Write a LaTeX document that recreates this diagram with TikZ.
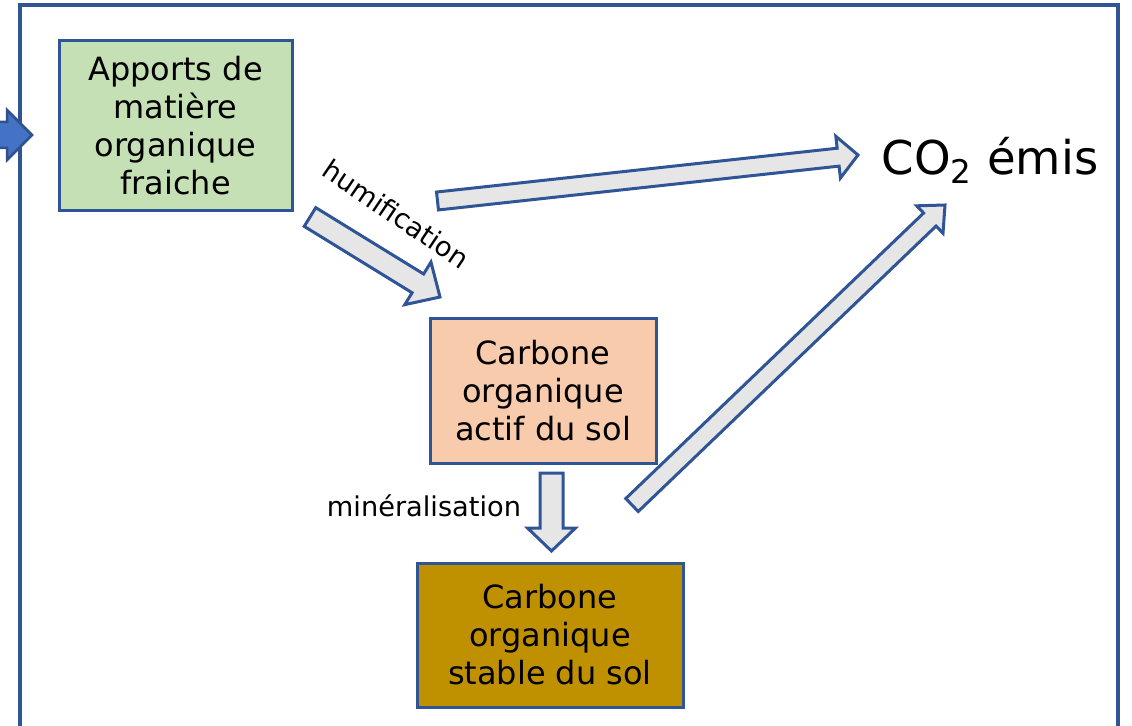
\documentclass[tikz,border=0pt]{standalone}
\usepackage{fontspec}
\setmainfont{DejaVu Sans}
\usetikzlibrary{calc}

\newlength{\du}
\setlength{\du}{0.02cm}

\definecolor{linecolor}{RGB}{47,85,151}
\definecolor{freshcolor}{RGB}{197,224,180}
\definecolor{activecolor}{RGB}{248,203,173}
\definecolor{stablecolor}{RGB}{191,144,0}
\definecolor{arrowgrey}{RGB}{231,230,230}
\definecolor{inputblue}{RGB}{68,114,196}
\definecolor{inputline}{RGB}{47,82,143}

\tikzset{
  poolbox/.style={draw=linecolor, line width=3\du, align=center, inner sep=0pt,
    font=\fontsize{18.2}{21.6}\selectfont},
  blockarrow/.style={draw=linecolor, fill=arrowgrey, line width=3\du, line join=miter},
  inputarrow/.style={draw=inputline, fill=inputblue, line width=2.5\du, line join=miter},
  fluxlabel/.style={inner sep=0pt, font=\fontsize{15.5}{18}\selectfont},
}

% #1 style, #2 tail, #3 tip, #4 half shaft, #5 half head, #6 head length
\newcommand{\blockarr}[6][blockarrow]{%
  \coordinate (neck) at ($(#3)!#6!(#2)$);
  \draw[#1] ($(#2)!#4!90:(#3)$) -- ($(neck)!#4!90:(#3)$) -- ($(neck)!#5!90:(#3)$)
    -- (#3) -- ($(neck)!#5!-90:(#3)$) -- ($(neck)!#4!-90:(#3)$)
    -- ($(#2)!#4!-90:(#3)$) -- cycle;
}

\begin{document}
\begin{tikzpicture}
\pgftransformyscale{-1.000000}
\useasboundingbox (0\du,0\du) rectangle (1132\du,726\du);

% frame
\draw[linecolor, line width=3.2\du] (20\du,730\du) -- (20\du,5\du) -- (1118\du,5\du) -- (1118\du,730\du);

% input arrow
\coordinate (intail) at (-10\du,135\du);
\coordinate (intip) at (32\du,135\du);
\blockarr[inputarrow]{intail}{intip}{13\du}{25\du}{25\du}

% pools
\node[poolbox, fill=freshcolor, minimum width=233\du, minimum height=170\du] (fresh) at (175.5\du,126\du)
  {Apports de\\matière\\organique\\fraiche};
\node[poolbox, fill=activecolor, minimum width=226\du, minimum height=145\du] (active) at (543\du,390.5\du)
  {Carbone\\organique\\actif du sol};
\node[poolbox, fill=stablecolor, minimum width=266\du, minimum height=144\du] (stable) at (550\du,635\du)
  {Carbone\\organique\\stable du sol};
\node[inner sep=0pt, font=\fontsize{26.5}{30}\selectfont] (co2) at (990\du,160\du) {CO\textsubscript{2} émis};

% fluxes
\coordinate (humtail) at (310\du,217\du);
\coordinate (humtip) at (440\du,297\du);
\blockarr{humtail}{humtip}{11\du}{25\du}{26\du}
\node[fluxlabel, rotate=-34] (humlabel) at (396\du,214\du) {humification};

\coordinate (resptail) at (437.5\du,201\du);
\coordinate (resptip) at (858\du,155\du);
\blockarr{resptail}{resptip}{9\du}{21\du}{20\du}

\coordinate (mintail) at (632\du,505\du);
\coordinate (mintip) at (945\du,205\du);
\blockarr{mintail}{mintip}{9\du}{19\du}{21\du}

\coordinate (stabtail) at (551.5\du,473\du);
\coordinate (stabtip) at (551.5\du,551\du);
\blockarr{stabtail}{stabtip}{11.5\du}{24\du}{23\du}
\node[fluxlabel] (minlabel) at (424\du,506\du) {minéralisation};
\end{tikzpicture}
\end{document}
